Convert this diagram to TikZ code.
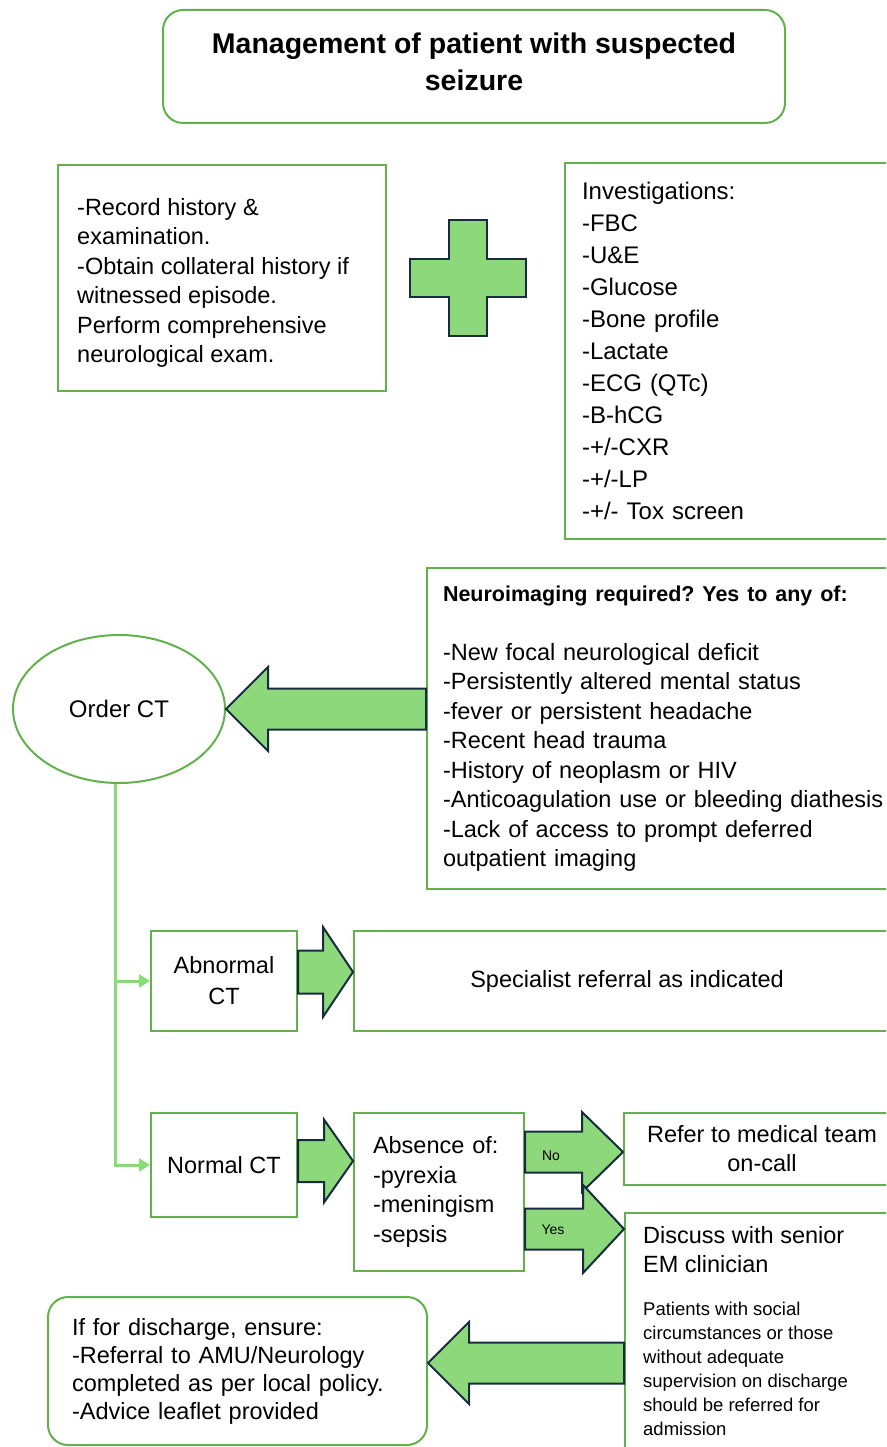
\documentclass[tikz,border=0pt]{standalone}
\usepackage{fontspec}
\setmainfont{Liberation Sans}
\usetikzlibrary{calc,arrows.meta,shapes.geometric}
\definecolor{bgreen}{RGB}{98,177,77}
\definecolor{lgreen}{RGB}{141,216,122}
\definecolor{navy}{RGB}{24,44,64}
\tikzset{
  box/.style={draw=bgreen, line width=2pt, rectangle, inner sep=0pt, align=left,
    font=\fontsize{23.5}{29.5}\selectfont},
  blk/.style={fill=lgreen, draw=navy, line width=2pt, line join=miter},
  trunk/.style={draw=lgreen, line width=3pt},
  txt/.style={inner sep=0pt, align=left},
}
% base, tip, shaft half width, head half width, head length
\newcommand\blockarr[5]{%
  \path[blk] let \p1=(#1), \p2=(#2), \n1={sign(\x2-\x1)} in
    (\x1,\y2+#3) -- ({\x2-(\n1)*#5},\y2+#3) -- ({\x2-(\n1)*#5},\y2+#4) -- (\x2,\y2)
    -- ({\x2-(\n1)*#5},\y2-#4) -- ({\x2-(\n1)*#5},\y2-#3) -- (\x1,\y2-#3) -- cycle;}
\begin{document}
\frenchspacing
\begin{tikzpicture}[x=1pt,y=-1pt]
\useasboundingbox (0,0) rectangle (886,1447);
\clip (0,0) rectangle (886,1447);

% title
\node[box, rounded corners=20pt, minimum width=622pt, minimum height=113pt] (title) at (474,66.5) {};
\node[txt, align=center, font=\fontsize{28.5}{37}\selectfont\bfseries] (titletext) at (474,62)
  {Management of patient with suspected\\seizure};

% history box
\node[box, minimum width=328pt, minimum height=226pt, text width=290pt] (hist) at (222,278) {};
\node[txt, anchor=west, font=\fontsize{23.5}{29.5}\selectfont] (histtext) at (77,283)
  {-Record history \&\\examination.\\-Obtain collateral history if\\witnessed episode.\\Perform comprehensive\\neurological exam.};

% plus sign
\draw[blk] (449,220) -- (487,220) -- (487,259) -- (526,259) -- (526,297) -- (487,297)
  -- (487,336) -- (449,336) -- (449,297) -- (410,297) -- (410,259) -- (449,259) -- cycle;

% investigations
\node[box, minimum width=335pt, minimum height=376pt, text width=301pt,
  font=\fontsize{24}{32}\selectfont] (inv) at (732.5,351)
  {Investigations:\\-FBC\\-U\&E\\-Glucose\\-Bone profile\\-Lactate\\-ECG (QTc)\\-B-hCG\\-+/-CXR\\-+/-LP\\-+/- Tox screen};

% neuroimaging
\node[box, minimum width=473pt, minimum height=321pt, text width=441pt] (neuro) at (663.5,728.5)
  {\mbox{\fontsize{21.5}{29.5}\selectfont\bfseries Neuroimaging required? Yes to any of:}\\[29.5pt]-New focal neurological deficit\\-Persistently altered mental status\\-fever or persistent headache\\-Recent head trauma\\-History of neoplasm or HIV\\-Anticoagulation use or bleeding diathesis\\-Lack of access to prompt deferred\\outpatient imaging};

% order CT
\node[draw=bgreen, line width=2pt, ellipse, minimum width=212pt, minimum height=148pt,
  inner sep=0pt, font=\fontsize{24}{29}\selectfont] (order) at (119,709) {Order CT};

\blockarr{$(neuro.west)+(0,-20.5)$}{order.east}{20.5}{42}{42}

% abnormal / normal
\node[box, minimum width=146pt, minimum height=100pt, align=center,
  font=\fontsize{23.5}{31}\selectfont] (abn) at (224,981) {Abnormal\\CT};
\node[box, minimum width=546pt, minimum height=100pt, align=center] (spec) at (627,981)
  {Specialist referral as indicated};
\node[box, minimum width=146pt, minimum height=104pt, align=center] (norm) at (224,1165) {Normal CT};
\node[box, minimum width=170pt, minimum height=158pt, text width=132pt] (absn) at (439,1192)
  {Absence of:\\-pyrexia\\-meningism\\-sepsis};
\node[box, minimum width=276pt, minimum height=72pt, align=center, font=\fontsize{23.5}{29}\selectfont]
  (refer) at (762,1149) {Refer to medical team\\on-call};
\node[box, minimum width=276pt, minimum height=248pt, anchor=north west] (disc) at (624,1212) {};
\node[txt, anchor=north west, font=\fontsize{23.5}{29}\selectfont] (disct) at (643,1226)
  {Discuss with senior\\EM clinician};
\node[txt, anchor=north west, font=\fontsize{18.5}{24}\selectfont] (discs) at (643,1302)
  {Patients with social\\circumstances or those\\without adequate\\supervision on discharge\\should be referred for\\admission};
\node[box, rounded corners=20pt, minimum width=379pt, minimum height=148pt, text width=331pt,
  font=\fontsize{23.5}{28}\selectfont] (dis) at (237.5,1371)
  {If for discharge, ensure:\\-Referral to AMU/Neurology\\completed as per local policy.\\-Advice leaflet provided};

% trunk connector
\coordinate (tr) at ($(order.south)+(-4,0)$);
\draw[trunk, -{Triangle[length=11pt,width=13pt]}] (tr) |- (abn.west);
\draw[trunk, -{Triangle[length=11pt,width=13pt]}] (tr) |- (norm.west);

% block arrows
\blockarr{$(abn.east)+(0,-9)$}{$(spec.west)+(0,-9)$}{21.5}{45}{30}
\blockarr{$(norm.east)+(0,-4)$}{$(absn.west)+(0,-31)$}{21}{41.5}{29}
\blockarr{$(absn.east)+(0,-40)$}{$(refer.west)+(0,3)$}{20.5}{40}{41}
\blockarr{$(absn.east)+(0,36)$}{$(disc.west)+(0,-108)$}{20.5}{44}{41}
\blockarr{$(disc.west)+(0,27)$}{$(dis.east)+(0,-8)$}{20.5}{41}{41}

\node[font=\fontsize{14}{16}\selectfont] (nolbl) at (551,1156) {No};
\node[font=\fontsize{14}{16}\selectfont] (yeslbl) at (553,1230) {Yes};
\end{tikzpicture}
\end{document}
